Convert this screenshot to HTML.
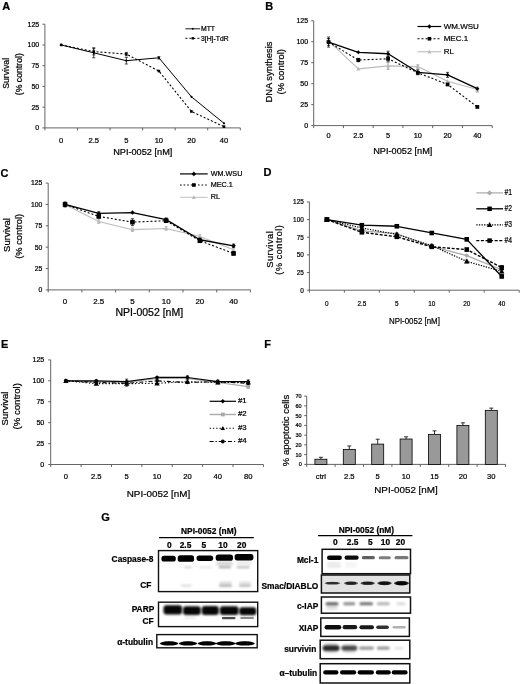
<!DOCTYPE html><html><head><meta charset="utf-8"><style>html,body{margin:0;padding:0;background:#fff;}svg{display:block;filter:grayscale(1) blur(0.3px);}text{font-family:"Liberation Sans", sans-serif;stroke:#000;stroke-width:0.22px;}</style></head><body>
<svg width="520" height="684" viewBox="0 0 520 684">
<rect width="520" height="684" fill="#fff"/>
<text x="2.30" y="10.20" font-size="11" text-anchor="start" font-weight="bold" fill="#000" >A</text>
<line x1="44.90" y1="24.20" x2="44.90" y2="127.90" stroke="#555" stroke-width="0.9" />
<line x1="44.90" y1="127.90" x2="240.30" y2="127.90" stroke="#555" stroke-width="0.9" />
<line x1="42.40" y1="127.90" x2="44.90" y2="127.90" stroke="#555" stroke-width="0.9" />
<text x="39.20" y="130.35" font-size="7" text-anchor="end" font-weight="normal" fill="#000" >0</text>
<line x1="42.40" y1="107.16" x2="44.90" y2="107.16" stroke="#555" stroke-width="0.9" />
<text x="39.20" y="109.61" font-size="7" text-anchor="end" font-weight="normal" fill="#000" >25</text>
<line x1="42.40" y1="86.42" x2="44.90" y2="86.42" stroke="#555" stroke-width="0.9" />
<text x="39.20" y="88.87" font-size="7" text-anchor="end" font-weight="normal" fill="#000" >50</text>
<line x1="42.40" y1="65.68" x2="44.90" y2="65.68" stroke="#555" stroke-width="0.9" />
<text x="39.20" y="68.13" font-size="7" text-anchor="end" font-weight="normal" fill="#000" >75</text>
<line x1="42.40" y1="44.94" x2="44.90" y2="44.94" stroke="#555" stroke-width="0.9" />
<text x="39.20" y="47.39" font-size="7" text-anchor="end" font-weight="normal" fill="#000" >100</text>
<line x1="42.40" y1="24.20" x2="44.90" y2="24.20" stroke="#555" stroke-width="0.9" />
<text x="39.20" y="26.65" font-size="7" text-anchor="end" font-weight="normal" fill="#000" >125</text>
<line x1="44.90" y1="127.90" x2="44.90" y2="130.40" stroke="#555" stroke-width="0.9" />
<line x1="77.47" y1="127.90" x2="77.47" y2="130.40" stroke="#555" stroke-width="0.9" />
<line x1="110.03" y1="127.90" x2="110.03" y2="130.40" stroke="#555" stroke-width="0.9" />
<line x1="142.60" y1="127.90" x2="142.60" y2="130.40" stroke="#555" stroke-width="0.9" />
<line x1="175.17" y1="127.90" x2="175.17" y2="130.40" stroke="#555" stroke-width="0.9" />
<line x1="207.73" y1="127.90" x2="207.73" y2="130.40" stroke="#555" stroke-width="0.9" />
<line x1="240.30" y1="127.90" x2="240.30" y2="130.40" stroke="#555" stroke-width="0.9" />
<text x="61.18" y="143.36" font-size="7.6" text-anchor="middle" font-weight="normal" fill="#000" >0</text>
<text x="93.75" y="143.36" font-size="7.6" text-anchor="middle" font-weight="normal" fill="#000" >2.5</text>
<text x="126.32" y="143.36" font-size="7.6" text-anchor="middle" font-weight="normal" fill="#000" >5</text>
<text x="158.88" y="143.36" font-size="7.6" text-anchor="middle" font-weight="normal" fill="#000" >10</text>
<text x="191.45" y="143.36" font-size="7.6" text-anchor="middle" font-weight="normal" fill="#000" >20</text>
<text x="224.02" y="143.36" font-size="7.6" text-anchor="middle" font-weight="normal" fill="#000" >40</text>
<text x="142.75" y="155.22" font-size="9.2" text-anchor="middle" font-weight="normal" fill="#000" >NPI-0052 [nM]</text>
<text x="5.80" y="76.45" font-size="8.7" text-anchor="middle" font-weight="normal" fill="#000" transform="rotate(-90 5.80 73.40)" >Survival</text>
<text x="18.80" y="77.25" font-size="8.7" text-anchor="middle" font-weight="normal" fill="#000" transform="rotate(-90 18.80 74.20)" >(% control)</text>
<polyline points="61.18,44.94 93.75,52.82 126.32,60.70 158.88,57.80 191.45,96.79 224.02,123.34" fill="none" stroke="#000" stroke-width="1" stroke-linejoin="round"/>
<line x1="93.75" y1="47.84" x2="93.75" y2="57.80" stroke="#000" stroke-width="0.7" />
<line x1="92.25" y1="47.84" x2="95.25" y2="47.84" stroke="#000" stroke-width="0.7" />
<line x1="92.25" y1="57.80" x2="95.25" y2="57.80" stroke="#000" stroke-width="0.7" />
<line x1="126.32" y1="57.38" x2="126.32" y2="64.02" stroke="#000" stroke-width="0.7" />
<line x1="124.82" y1="57.38" x2="127.82" y2="57.38" stroke="#000" stroke-width="0.7" />
<line x1="124.82" y1="64.02" x2="127.82" y2="64.02" stroke="#000" stroke-width="0.7" />
<line x1="158.88" y1="56.55" x2="158.88" y2="59.04" stroke="#000" stroke-width="0.7" />
<line x1="157.38" y1="56.55" x2="160.38" y2="56.55" stroke="#000" stroke-width="0.7" />
<line x1="157.38" y1="59.04" x2="160.38" y2="59.04" stroke="#000" stroke-width="0.7" />
<circle cx="61.18" cy="44.94" r="1.1" fill="#000"/>
<circle cx="93.75" cy="52.82" r="1.1" fill="#000"/>
<circle cx="126.32" cy="60.70" r="1.1" fill="#000"/>
<circle cx="158.88" cy="57.80" r="1.1" fill="#000"/>
<circle cx="191.45" cy="96.79" r="1.1" fill="#000"/>
<circle cx="224.02" cy="123.34" r="1.1" fill="#000"/>
<polyline points="61.18,44.94 93.75,51.58 126.32,54.07 158.88,71.07 191.45,111.47 224.02,126.66" fill="none" stroke="#000" stroke-width="1.1" stroke-dasharray="2,2" stroke-linejoin="round"/>
<line x1="93.75" y1="48.26" x2="93.75" y2="54.90" stroke="#000" stroke-width="0.7" />
<line x1="92.25" y1="48.26" x2="95.25" y2="48.26" stroke="#000" stroke-width="0.7" />
<line x1="92.25" y1="54.90" x2="95.25" y2="54.90" stroke="#000" stroke-width="0.7" />
<line x1="126.32" y1="52.41" x2="126.32" y2="55.72" stroke="#000" stroke-width="0.7" />
<line x1="124.82" y1="52.41" x2="127.82" y2="52.41" stroke="#000" stroke-width="0.7" />
<line x1="124.82" y1="55.72" x2="127.82" y2="55.72" stroke="#000" stroke-width="0.7" />
<rect x="59.88" y="43.64" width="2.6" height="2.6" fill="#000"/>
<rect x="92.45" y="50.28" width="2.6" height="2.6" fill="#000"/>
<rect x="125.02" y="52.77" width="2.6" height="2.6" fill="#000"/>
<rect x="157.58" y="69.77" width="2.6" height="2.6" fill="#000"/>
<rect x="190.15" y="110.17" width="2.6" height="2.6" fill="#000"/>
<rect x="222.72" y="125.36" width="2.6" height="2.6" fill="#000"/>
<line x1="185.40" y1="28.80" x2="200.20" y2="28.80" stroke="#000" stroke-width="0.9" />
<circle cx="192.80" cy="28.80" r="1.0" fill="#000"/>
<text x="201.00" y="31.18" font-size="6.8" text-anchor="start" font-weight="normal" fill="#000" >MTT</text>
<line x1="185.40" y1="38.30" x2="200.20" y2="38.30" stroke="#000" stroke-width="1" stroke-dasharray="2,2" />
<rect x="191.60" y="37.10" width="2.4" height="2.4" fill="#000"/>
<text x="201.00" y="40.68" font-size="6.8" text-anchor="start" font-weight="normal" fill="#000" >3[H]-TdR</text>
<text x="265.30" y="10.20" font-size="11" text-anchor="start" font-weight="bold" fill="#000" >B</text>
<line x1="313.70" y1="20.80" x2="313.70" y2="125.60" stroke="#555" stroke-width="0.9" />
<line x1="313.70" y1="125.60" x2="492.20" y2="125.60" stroke="#555" stroke-width="0.9" />
<line x1="311.20" y1="125.60" x2="313.70" y2="125.60" stroke="#555" stroke-width="0.9" />
<text x="308.10" y="128.05" font-size="7" text-anchor="end" font-weight="normal" fill="#000" >0</text>
<line x1="311.20" y1="104.64" x2="313.70" y2="104.64" stroke="#555" stroke-width="0.9" />
<text x="308.10" y="107.09" font-size="7" text-anchor="end" font-weight="normal" fill="#000" >25</text>
<line x1="311.20" y1="83.68" x2="313.70" y2="83.68" stroke="#555" stroke-width="0.9" />
<text x="308.10" y="86.13" font-size="7" text-anchor="end" font-weight="normal" fill="#000" >50</text>
<line x1="311.20" y1="62.72" x2="313.70" y2="62.72" stroke="#555" stroke-width="0.9" />
<text x="308.10" y="65.17" font-size="7" text-anchor="end" font-weight="normal" fill="#000" >75</text>
<line x1="311.20" y1="41.76" x2="313.70" y2="41.76" stroke="#555" stroke-width="0.9" />
<text x="308.10" y="44.21" font-size="7" text-anchor="end" font-weight="normal" fill="#000" >100</text>
<line x1="311.20" y1="20.80" x2="313.70" y2="20.80" stroke="#555" stroke-width="0.9" />
<text x="308.10" y="23.25" font-size="7" text-anchor="end" font-weight="normal" fill="#000" >125</text>
<line x1="313.70" y1="125.60" x2="313.70" y2="128.10" stroke="#555" stroke-width="0.9" />
<line x1="343.45" y1="125.60" x2="343.45" y2="128.10" stroke="#555" stroke-width="0.9" />
<line x1="373.20" y1="125.60" x2="373.20" y2="128.10" stroke="#555" stroke-width="0.9" />
<line x1="402.95" y1="125.60" x2="402.95" y2="128.10" stroke="#555" stroke-width="0.9" />
<line x1="432.70" y1="125.60" x2="432.70" y2="128.10" stroke="#555" stroke-width="0.9" />
<line x1="462.45" y1="125.60" x2="462.45" y2="128.10" stroke="#555" stroke-width="0.9" />
<line x1="492.20" y1="125.60" x2="492.20" y2="128.10" stroke="#555" stroke-width="0.9" />
<text x="328.57" y="138.39" font-size="7.4" text-anchor="middle" font-weight="normal" fill="#000" >0</text>
<text x="358.32" y="138.39" font-size="7.4" text-anchor="middle" font-weight="normal" fill="#000" >2.5</text>
<text x="388.07" y="138.39" font-size="7.4" text-anchor="middle" font-weight="normal" fill="#000" >5</text>
<text x="417.82" y="138.39" font-size="7.4" text-anchor="middle" font-weight="normal" fill="#000" >10</text>
<text x="447.57" y="138.39" font-size="7.4" text-anchor="middle" font-weight="normal" fill="#000" >20</text>
<text x="477.32" y="138.39" font-size="7.4" text-anchor="middle" font-weight="normal" fill="#000" >40</text>
<text x="402.80" y="153.62" font-size="9.2" text-anchor="middle" font-weight="normal" fill="#000" >NPI-0052 [nM]</text>
<text x="269.20" y="75.34" font-size="9.4" text-anchor="middle" font-weight="normal" fill="#000" transform="rotate(-90 269.20 72.05)" >DNA synthesis</text>
<text x="281.00" y="75.04" font-size="9.4" text-anchor="middle" font-weight="normal" fill="#000" transform="rotate(-90 281.00 71.75)" >(% control)</text>
<polyline points="328.57,40.92 358.32,68.84 388.07,65.91 417.82,66.58 447.57,81.16 477.32,89.55" fill="none" stroke="#bbb" stroke-width="1.1" stroke-linejoin="round"/>
<line x1="328.57" y1="38.41" x2="328.57" y2="43.44" stroke="#777" stroke-width="0.7" />
<line x1="327.07" y1="38.41" x2="330.07" y2="38.41" stroke="#777" stroke-width="0.7" />
<line x1="327.07" y1="43.44" x2="330.07" y2="43.44" stroke="#777" stroke-width="0.7" />
<line x1="388.07" y1="62.55" x2="388.07" y2="69.26" stroke="#777" stroke-width="0.7" />
<line x1="386.57" y1="62.55" x2="389.57" y2="62.55" stroke="#777" stroke-width="0.7" />
<line x1="386.57" y1="69.26" x2="389.57" y2="69.26" stroke="#777" stroke-width="0.7" />
<line x1="417.82" y1="64.90" x2="417.82" y2="68.25" stroke="#777" stroke-width="0.7" />
<line x1="416.32" y1="64.90" x2="419.32" y2="64.90" stroke="#777" stroke-width="0.7" />
<line x1="416.32" y1="68.25" x2="419.32" y2="68.25" stroke="#777" stroke-width="0.7" />
<line x1="477.32" y1="87.03" x2="477.32" y2="92.06" stroke="#777" stroke-width="0.7" />
<line x1="475.82" y1="87.03" x2="478.82" y2="87.03" stroke="#777" stroke-width="0.7" />
<line x1="475.82" y1="92.06" x2="478.82" y2="92.06" stroke="#777" stroke-width="0.7" />
<polygon points="328.57,38.88 330.62,42.55 326.53,42.55" fill="#bbb"/>
<polygon points="358.32,66.80 360.37,70.47 356.28,70.47" fill="#bbb"/>
<polygon points="388.07,63.87 390.12,67.54 386.03,67.54" fill="#bbb"/>
<polygon points="417.82,64.54 419.87,68.21 415.78,68.21" fill="#bbb"/>
<polygon points="447.57,79.12 449.62,82.80 445.53,82.80" fill="#bbb"/>
<polygon points="477.32,87.51 479.37,91.18 475.28,91.18" fill="#bbb"/>
<polyline points="328.57,42.10 358.32,60.04 388.07,58.78 417.82,72.78 447.57,84.43 477.32,106.90" fill="none" stroke="#000" stroke-width="1.1" stroke-dasharray="2,2" stroke-linejoin="round"/>
<line x1="328.57" y1="38.74" x2="328.57" y2="45.45" stroke="#000" stroke-width="0.7" />
<line x1="327.07" y1="38.74" x2="330.07" y2="38.74" stroke="#000" stroke-width="0.7" />
<line x1="327.07" y1="45.45" x2="330.07" y2="45.45" stroke="#000" stroke-width="0.7" />
<line x1="358.32" y1="58.36" x2="358.32" y2="61.71" stroke="#000" stroke-width="0.7" />
<line x1="356.82" y1="58.36" x2="359.82" y2="58.36" stroke="#000" stroke-width="0.7" />
<line x1="356.82" y1="61.71" x2="359.82" y2="61.71" stroke="#000" stroke-width="0.7" />
<line x1="388.07" y1="56.26" x2="388.07" y2="61.29" stroke="#000" stroke-width="0.7" />
<line x1="386.57" y1="56.26" x2="389.57" y2="56.26" stroke="#000" stroke-width="0.7" />
<line x1="386.57" y1="61.29" x2="389.57" y2="61.29" stroke="#000" stroke-width="0.7" />
<rect x="326.68" y="40.20" width="3.8" height="3.8" fill="#000"/>
<rect x="356.43" y="58.14" width="3.8" height="3.8" fill="#000"/>
<rect x="386.18" y="56.88" width="3.8" height="3.8" fill="#000"/>
<rect x="415.93" y="70.88" width="3.8" height="3.8" fill="#000"/>
<rect x="445.68" y="82.53" width="3.8" height="3.8" fill="#000"/>
<rect x="475.43" y="105.00" width="3.8" height="3.8" fill="#000"/>
<polyline points="328.57,42.10 358.32,52.32 388.07,53.75 417.82,72.28 447.57,74.88 477.32,88.71" fill="none" stroke="#000" stroke-width="1.3" stroke-linejoin="round"/>
<line x1="328.57" y1="37.06" x2="328.57" y2="47.13" stroke="#000" stroke-width="0.7" />
<line x1="327.07" y1="37.06" x2="330.07" y2="37.06" stroke="#000" stroke-width="0.7" />
<line x1="327.07" y1="47.13" x2="330.07" y2="47.13" stroke="#000" stroke-width="0.7" />
<line x1="388.07" y1="51.23" x2="388.07" y2="56.26" stroke="#000" stroke-width="0.7" />
<line x1="386.57" y1="51.23" x2="389.57" y2="51.23" stroke="#000" stroke-width="0.7" />
<line x1="386.57" y1="56.26" x2="389.57" y2="56.26" stroke="#000" stroke-width="0.7" />
<line x1="417.82" y1="69.76" x2="417.82" y2="74.79" stroke="#000" stroke-width="0.7" />
<line x1="416.32" y1="69.76" x2="419.32" y2="69.76" stroke="#000" stroke-width="0.7" />
<line x1="416.32" y1="74.79" x2="419.32" y2="74.79" stroke="#000" stroke-width="0.7" />
<line x1="447.57" y1="72.36" x2="447.57" y2="77.39" stroke="#000" stroke-width="0.7" />
<line x1="446.07" y1="72.36" x2="449.07" y2="72.36" stroke="#000" stroke-width="0.7" />
<line x1="446.07" y1="77.39" x2="449.07" y2="77.39" stroke="#000" stroke-width="0.7" />
<polygon points="328.57,40.06 330.62,42.10 328.57,44.14 326.53,42.10" fill="#000"/>
<polygon points="358.32,50.28 360.37,52.32 358.32,54.36 356.28,52.32" fill="#000"/>
<polygon points="388.07,51.71 390.12,53.75 388.07,55.79 386.03,53.75" fill="#000"/>
<polygon points="417.82,70.24 419.87,72.28 417.82,74.32 415.78,72.28" fill="#000"/>
<polygon points="447.57,72.84 449.62,74.88 447.57,76.92 445.53,74.88" fill="#000"/>
<polygon points="477.32,86.67 479.37,88.71 477.32,90.75 475.28,88.71" fill="#000"/>
<line x1="417.50" y1="26.50" x2="441.25" y2="26.50" stroke="#000" stroke-width="1.2" />
<polygon points="429.40,24.34 431.56,26.50 429.40,28.66 427.24,26.50" fill="#000"/>
<text x="443.70" y="28.80" font-size="8" text-anchor="start" font-weight="normal" fill="#000" >WM.WSU</text>
<line x1="417.50" y1="38.75" x2="441.25" y2="38.75" stroke="#000" stroke-width="1.1" stroke-dasharray="2,2" />
<rect x="427.60" y="36.95" width="3.6" height="3.6" fill="#000"/>
<text x="443.70" y="41.05" font-size="8" text-anchor="start" font-weight="normal" fill="#000" >MEC.1</text>
<line x1="417.50" y1="51.75" x2="441.25" y2="51.75" stroke="#bbb" stroke-width="1.1" />
<polygon points="429.40,49.71 431.44,53.38 427.36,53.38" fill="#bbb"/>
<text x="443.70" y="53.80" font-size="8" text-anchor="start" font-weight="normal" fill="#000" >RL</text>
<text x="0.50" y="177.10" font-size="11" text-anchor="start" font-weight="bold" fill="#000" >C</text>
<line x1="48.20" y1="183.10" x2="48.20" y2="289.90" stroke="#555" stroke-width="0.9" />
<line x1="48.20" y1="289.90" x2="250.40" y2="289.90" stroke="#555" stroke-width="0.9" />
<line x1="45.70" y1="289.90" x2="48.20" y2="289.90" stroke="#555" stroke-width="0.9" />
<text x="42.30" y="292.28" font-size="6.8" text-anchor="end" font-weight="normal" fill="#000" >0</text>
<line x1="45.70" y1="268.54" x2="48.20" y2="268.54" stroke="#555" stroke-width="0.9" />
<text x="42.30" y="270.92" font-size="6.8" text-anchor="end" font-weight="normal" fill="#000" >25</text>
<line x1="45.70" y1="247.18" x2="48.20" y2="247.18" stroke="#555" stroke-width="0.9" />
<text x="42.30" y="249.56" font-size="6.8" text-anchor="end" font-weight="normal" fill="#000" >50</text>
<line x1="45.70" y1="225.82" x2="48.20" y2="225.82" stroke="#555" stroke-width="0.9" />
<text x="42.30" y="228.20" font-size="6.8" text-anchor="end" font-weight="normal" fill="#000" >75</text>
<line x1="45.70" y1="204.46" x2="48.20" y2="204.46" stroke="#555" stroke-width="0.9" />
<text x="42.30" y="206.84" font-size="6.8" text-anchor="end" font-weight="normal" fill="#000" >100</text>
<line x1="45.70" y1="183.10" x2="48.20" y2="183.10" stroke="#555" stroke-width="0.9" />
<text x="42.30" y="185.48" font-size="6.8" text-anchor="end" font-weight="normal" fill="#000" >125</text>
<line x1="48.20" y1="289.90" x2="48.20" y2="292.40" stroke="#555" stroke-width="0.9" />
<line x1="81.90" y1="289.90" x2="81.90" y2="292.40" stroke="#555" stroke-width="0.9" />
<line x1="115.60" y1="289.90" x2="115.60" y2="292.40" stroke="#555" stroke-width="0.9" />
<line x1="149.30" y1="289.90" x2="149.30" y2="292.40" stroke="#555" stroke-width="0.9" />
<line x1="183.00" y1="289.90" x2="183.00" y2="292.40" stroke="#555" stroke-width="0.9" />
<line x1="216.70" y1="289.90" x2="216.70" y2="292.40" stroke="#555" stroke-width="0.9" />
<line x1="250.40" y1="289.90" x2="250.40" y2="292.40" stroke="#555" stroke-width="0.9" />
<text x="65.05" y="303.56" font-size="7.9" text-anchor="middle" font-weight="normal" fill="#000" >0</text>
<text x="98.75" y="303.56" font-size="7.9" text-anchor="middle" font-weight="normal" fill="#000" >2.5</text>
<text x="132.45" y="303.56" font-size="7.9" text-anchor="middle" font-weight="normal" fill="#000" >5</text>
<text x="166.15" y="303.56" font-size="7.9" text-anchor="middle" font-weight="normal" fill="#000" >10</text>
<text x="199.85" y="303.56" font-size="7.9" text-anchor="middle" font-weight="normal" fill="#000" >20</text>
<text x="233.55" y="303.56" font-size="7.9" text-anchor="middle" font-weight="normal" fill="#000" >40</text>
<text x="149.25" y="316.18" font-size="10.5" text-anchor="middle" font-weight="normal" fill="#000" >NPI-0052 [nM]</text>
<text x="7.00" y="238.32" font-size="9.5" text-anchor="middle" font-weight="normal" fill="#000" transform="rotate(-90 7.00 235.00)" >Survival</text>
<text x="18.80" y="239.56" font-size="9.3" text-anchor="middle" font-weight="normal" fill="#000" transform="rotate(-90 18.80 236.30)" >(% control)</text>
<polyline points="65.05,204.46 98.75,221.55 132.45,229.66 166.15,228.47 199.85,236.50 233.55,249.83" fill="none" stroke="#bbb" stroke-width="1.1" stroke-linejoin="round"/>
<line x1="65.05" y1="202.75" x2="65.05" y2="206.17" stroke="#999" stroke-width="0.7" />
<line x1="63.55" y1="202.75" x2="66.55" y2="202.75" stroke="#999" stroke-width="0.7" />
<line x1="63.55" y1="206.17" x2="66.55" y2="206.17" stroke="#999" stroke-width="0.7" />
<line x1="98.75" y1="219.84" x2="98.75" y2="223.26" stroke="#999" stroke-width="0.7" />
<line x1="97.25" y1="219.84" x2="100.25" y2="219.84" stroke="#999" stroke-width="0.7" />
<line x1="97.25" y1="223.26" x2="100.25" y2="223.26" stroke="#999" stroke-width="0.7" />
<line x1="132.45" y1="227.96" x2="132.45" y2="231.37" stroke="#999" stroke-width="0.7" />
<line x1="130.95" y1="227.96" x2="133.95" y2="227.96" stroke="#999" stroke-width="0.7" />
<line x1="130.95" y1="231.37" x2="133.95" y2="231.37" stroke="#999" stroke-width="0.7" />
<line x1="166.15" y1="226.76" x2="166.15" y2="230.18" stroke="#999" stroke-width="0.7" />
<line x1="164.65" y1="226.76" x2="167.65" y2="226.76" stroke="#999" stroke-width="0.7" />
<line x1="164.65" y1="230.18" x2="167.65" y2="230.18" stroke="#999" stroke-width="0.7" />
<line x1="199.85" y1="234.79" x2="199.85" y2="238.21" stroke="#999" stroke-width="0.7" />
<line x1="198.35" y1="234.79" x2="201.35" y2="234.79" stroke="#999" stroke-width="0.7" />
<line x1="198.35" y1="238.21" x2="201.35" y2="238.21" stroke="#999" stroke-width="0.7" />
<line x1="233.55" y1="248.12" x2="233.55" y2="251.54" stroke="#999" stroke-width="0.7" />
<line x1="232.05" y1="248.12" x2="235.05" y2="248.12" stroke="#999" stroke-width="0.7" />
<line x1="232.05" y1="251.54" x2="235.05" y2="251.54" stroke="#999" stroke-width="0.7" />
<polygon points="65.05,202.42 67.09,206.09 63.01,206.09" fill="#bbb"/>
<polygon points="98.75,219.51 100.79,223.18 96.71,223.18" fill="#bbb"/>
<polygon points="132.45,227.62 134.49,231.30 130.41,231.30" fill="#bbb"/>
<polygon points="166.15,226.43 168.19,230.10 164.11,230.10" fill="#bbb"/>
<polygon points="199.85,234.46 201.89,238.13 197.81,238.13" fill="#bbb"/>
<polygon points="233.55,247.79 235.59,251.46 231.51,251.46" fill="#bbb"/>
<polyline points="65.05,204.46 98.75,216.42 132.45,222.15 166.15,220.69 199.85,240.77 233.55,253.42" fill="none" stroke="#000" stroke-width="1.1" stroke-dasharray="2,2" stroke-linejoin="round"/>
<line x1="65.05" y1="201.90" x2="65.05" y2="207.02" stroke="#000" stroke-width="0.7" />
<line x1="63.55" y1="201.90" x2="66.55" y2="201.90" stroke="#000" stroke-width="0.7" />
<line x1="63.55" y1="207.02" x2="66.55" y2="207.02" stroke="#000" stroke-width="0.7" />
<line x1="98.75" y1="214.71" x2="98.75" y2="218.13" stroke="#000" stroke-width="0.7" />
<line x1="97.25" y1="214.71" x2="100.25" y2="214.71" stroke="#000" stroke-width="0.7" />
<line x1="97.25" y1="218.13" x2="100.25" y2="218.13" stroke="#000" stroke-width="0.7" />
<line x1="132.45" y1="218.73" x2="132.45" y2="225.56" stroke="#000" stroke-width="0.7" />
<line x1="130.95" y1="218.73" x2="133.95" y2="218.73" stroke="#000" stroke-width="0.7" />
<line x1="130.95" y1="225.56" x2="133.95" y2="225.56" stroke="#000" stroke-width="0.7" />
<line x1="166.15" y1="218.98" x2="166.15" y2="222.40" stroke="#000" stroke-width="0.7" />
<line x1="164.65" y1="218.98" x2="167.65" y2="218.98" stroke="#000" stroke-width="0.7" />
<line x1="164.65" y1="222.40" x2="167.65" y2="222.40" stroke="#000" stroke-width="0.7" />
<line x1="199.85" y1="239.06" x2="199.85" y2="242.48" stroke="#000" stroke-width="0.7" />
<line x1="198.35" y1="239.06" x2="201.35" y2="239.06" stroke="#000" stroke-width="0.7" />
<line x1="198.35" y1="242.48" x2="201.35" y2="242.48" stroke="#000" stroke-width="0.7" />
<line x1="233.55" y1="251.71" x2="233.55" y2="255.13" stroke="#000" stroke-width="0.7" />
<line x1="232.05" y1="251.71" x2="235.05" y2="251.71" stroke="#000" stroke-width="0.7" />
<line x1="232.05" y1="255.13" x2="235.05" y2="255.13" stroke="#000" stroke-width="0.7" />
<rect x="62.75" y="202.16" width="4.6" height="4.6" fill="#000"/>
<rect x="96.45" y="214.12" width="4.6" height="4.6" fill="#000"/>
<rect x="130.15" y="219.85" width="4.6" height="4.6" fill="#000"/>
<rect x="163.85" y="218.39" width="4.6" height="4.6" fill="#000"/>
<rect x="197.55" y="238.47" width="4.6" height="4.6" fill="#000"/>
<rect x="231.25" y="251.12" width="4.6" height="4.6" fill="#000"/>
<polyline points="65.05,204.46 98.75,213.43 132.45,212.58 166.15,219.67 199.85,239.75 233.55,245.81" fill="none" stroke="#000" stroke-width="1.3" stroke-linejoin="round"/>
<line x1="65.05" y1="202.75" x2="65.05" y2="206.17" stroke="#000" stroke-width="0.7" />
<line x1="63.55" y1="202.75" x2="66.55" y2="202.75" stroke="#000" stroke-width="0.7" />
<line x1="63.55" y1="206.17" x2="66.55" y2="206.17" stroke="#000" stroke-width="0.7" />
<line x1="98.75" y1="211.72" x2="98.75" y2="215.14" stroke="#000" stroke-width="0.7" />
<line x1="97.25" y1="211.72" x2="100.25" y2="211.72" stroke="#000" stroke-width="0.7" />
<line x1="97.25" y1="215.14" x2="100.25" y2="215.14" stroke="#000" stroke-width="0.7" />
<line x1="166.15" y1="217.96" x2="166.15" y2="221.38" stroke="#000" stroke-width="0.7" />
<line x1="164.65" y1="217.96" x2="167.65" y2="217.96" stroke="#000" stroke-width="0.7" />
<line x1="164.65" y1="221.38" x2="167.65" y2="221.38" stroke="#000" stroke-width="0.7" />
<line x1="199.85" y1="238.04" x2="199.85" y2="241.46" stroke="#000" stroke-width="0.7" />
<line x1="198.35" y1="238.04" x2="201.35" y2="238.04" stroke="#000" stroke-width="0.7" />
<line x1="198.35" y1="241.46" x2="201.35" y2="241.46" stroke="#000" stroke-width="0.7" />
<line x1="233.55" y1="244.10" x2="233.55" y2="247.52" stroke="#000" stroke-width="0.7" />
<line x1="232.05" y1="244.10" x2="235.05" y2="244.10" stroke="#000" stroke-width="0.7" />
<line x1="232.05" y1="247.52" x2="235.05" y2="247.52" stroke="#000" stroke-width="0.7" />
<polygon points="65.05,202.18 67.33,204.46 65.05,206.74 62.77,204.46" fill="#000"/>
<polygon points="98.75,211.15 101.03,213.43 98.75,215.71 96.47,213.43" fill="#000"/>
<polygon points="132.45,210.30 134.73,212.58 132.45,214.86 130.17,212.58" fill="#000"/>
<polygon points="166.15,217.39 168.43,219.67 166.15,221.95 163.87,219.67" fill="#000"/>
<polygon points="199.85,237.47 202.13,239.75 199.85,242.03 197.57,239.75" fill="#000"/>
<polygon points="233.55,243.53 235.83,245.81 233.55,248.09 231.27,245.81" fill="#000"/>
<line x1="180.00" y1="173.90" x2="207.70" y2="173.90" stroke="#000" stroke-width="1.2" />
<polygon points="193.85,171.62 196.13,173.90 193.85,176.18 191.57,173.90" fill="#000"/>
<text x="210.80" y="175.92" font-size="7.2" text-anchor="start" font-weight="normal" fill="#000" >WM.WSU</text>
<line x1="180.00" y1="185.00" x2="207.70" y2="185.00" stroke="#000" stroke-width="1.1" stroke-dasharray="1.6,2" />
<rect x="192.05" y="183.20" width="3.6" height="3.6" fill="#000"/>
<text x="210.80" y="187.02" font-size="7.2" text-anchor="start" font-weight="normal" fill="#000" >MEC.1</text>
<line x1="180.00" y1="197.30" x2="207.70" y2="197.30" stroke="#c4c4c4" stroke-width="1.1" />
<polygon points="193.85,195.26 195.89,198.93 191.81,198.93" fill="#bbb"/>
<text x="210.80" y="199.32" font-size="7.2" text-anchor="start" font-weight="normal" fill="#000" >RL</text>
<text x="263.60" y="176.30" font-size="11" text-anchor="start" font-weight="bold" fill="#000" >D</text>
<line x1="309.40" y1="201.90" x2="309.40" y2="290.20" stroke="#555" stroke-width="0.9" />
<line x1="309.40" y1="290.20" x2="519.20" y2="290.20" stroke="#555" stroke-width="0.9" />
<line x1="306.90" y1="290.20" x2="309.40" y2="290.20" stroke="#555" stroke-width="0.9" />
<text x="303.80" y="292.79" font-size="7.4" text-anchor="end" font-weight="normal" fill="#000" transform="translate(303.80 0) scale(0.87 1) translate(-303.80 0)" >0</text>
<line x1="306.90" y1="272.54" x2="309.40" y2="272.54" stroke="#555" stroke-width="0.9" />
<text x="303.80" y="275.13" font-size="7.4" text-anchor="end" font-weight="normal" fill="#000" transform="translate(303.80 0) scale(0.87 1) translate(-303.80 0)" >25</text>
<line x1="306.90" y1="254.88" x2="309.40" y2="254.88" stroke="#555" stroke-width="0.9" />
<text x="303.80" y="257.47" font-size="7.4" text-anchor="end" font-weight="normal" fill="#000" transform="translate(303.80 0) scale(0.87 1) translate(-303.80 0)" >50</text>
<line x1="306.90" y1="237.22" x2="309.40" y2="237.22" stroke="#555" stroke-width="0.9" />
<text x="303.80" y="239.81" font-size="7.4" text-anchor="end" font-weight="normal" fill="#000" transform="translate(303.80 0) scale(0.87 1) translate(-303.80 0)" >75</text>
<line x1="306.90" y1="219.56" x2="309.40" y2="219.56" stroke="#555" stroke-width="0.9" />
<text x="303.80" y="222.15" font-size="7.4" text-anchor="end" font-weight="normal" fill="#000" transform="translate(303.80 0) scale(0.87 1) translate(-303.80 0)" >100</text>
<line x1="306.90" y1="201.90" x2="309.40" y2="201.90" stroke="#555" stroke-width="0.9" />
<text x="303.80" y="204.49" font-size="7.4" text-anchor="end" font-weight="normal" fill="#000" transform="translate(303.80 0) scale(0.87 1) translate(-303.80 0)" >125</text>
<line x1="309.40" y1="290.20" x2="309.40" y2="292.70" stroke="#555" stroke-width="0.9" />
<line x1="344.37" y1="290.20" x2="344.37" y2="292.70" stroke="#555" stroke-width="0.9" />
<line x1="379.33" y1="290.20" x2="379.33" y2="292.70" stroke="#555" stroke-width="0.9" />
<line x1="414.30" y1="290.20" x2="414.30" y2="292.70" stroke="#555" stroke-width="0.9" />
<line x1="449.27" y1="290.20" x2="449.27" y2="292.70" stroke="#555" stroke-width="0.9" />
<line x1="484.23" y1="290.20" x2="484.23" y2="292.70" stroke="#555" stroke-width="0.9" />
<line x1="519.20" y1="290.20" x2="519.20" y2="292.70" stroke="#555" stroke-width="0.9" />
<text x="326.88" y="306.05" font-size="8" text-anchor="middle" font-weight="normal" fill="#000" transform="translate(326.88 0) scale(0.8 1) translate(-326.88 0)" >0</text>
<text x="361.85" y="306.05" font-size="8" text-anchor="middle" font-weight="normal" fill="#000" transform="translate(361.85 0) scale(0.8 1) translate(-361.85 0)" >2.5</text>
<text x="396.82" y="306.05" font-size="8" text-anchor="middle" font-weight="normal" fill="#000" transform="translate(396.82 0) scale(0.8 1) translate(-396.82 0)" >5</text>
<text x="431.78" y="306.05" font-size="8" text-anchor="middle" font-weight="normal" fill="#000" transform="translate(431.78 0) scale(0.8 1) translate(-431.78 0)" >10</text>
<text x="466.75" y="306.05" font-size="8" text-anchor="middle" font-weight="normal" fill="#000" transform="translate(466.75 0) scale(0.8 1) translate(-466.75 0)" >20</text>
<text x="501.72" y="306.05" font-size="8" text-anchor="middle" font-weight="normal" fill="#000" transform="translate(501.72 0) scale(0.8 1) translate(-501.72 0)" >40</text>
<g transform="translate(414.4 321.2) scale(0.85 1) translate(-414.4 -321.2)">
<text x="414.40" y="324.45" font-size="9.3" text-anchor="middle" font-weight="normal" fill="#000" >NPI-0052 [nM]</text>
</g>
<text x="269.50" y="252.45" font-size="9.3" text-anchor="middle" font-weight="normal" fill="#000" transform="rotate(-90 269.50 249.20)" letter-spacing="0.5">Survival</text>
<text x="279.00" y="252.75" font-size="9" text-anchor="middle" font-weight="normal" fill="#000" transform="rotate(-90 279.00 249.60)" letter-spacing="0.6">(% control)</text>
<polyline points="326.88,219.56 361.85,230.86 396.82,233.69 431.78,246.40 466.75,255.59 501.72,269.71" fill="none" stroke="#aaa" stroke-width="1.2" stroke-linejoin="round"/>
<line x1="501.72" y1="267.60" x2="501.72" y2="271.83" stroke="#aaa" stroke-width="0.7" />
<line x1="500.22" y1="267.60" x2="503.22" y2="267.60" stroke="#aaa" stroke-width="0.7" />
<line x1="500.22" y1="271.83" x2="503.22" y2="271.83" stroke="#aaa" stroke-width="0.7" />
<polygon points="326.88,217.16 329.28,219.56 326.88,221.96 324.48,219.56" fill="#aaa"/>
<polygon points="361.85,228.46 364.25,230.86 361.85,233.26 359.45,230.86" fill="#aaa"/>
<polygon points="396.82,231.29 399.22,233.69 396.82,236.09 394.42,233.69" fill="#aaa"/>
<polygon points="431.78,244.00 434.18,246.40 431.78,248.80 429.38,246.40" fill="#aaa"/>
<polygon points="466.75,253.19 469.15,255.59 466.75,257.99 464.35,255.59" fill="#aaa"/>
<polygon points="501.72,267.31 504.12,269.71 501.72,272.11 499.32,269.71" fill="#aaa"/>
<polyline points="326.88,219.56 361.85,232.28 396.82,236.80 431.78,246.83 466.75,249.58 501.72,267.60" fill="none" stroke="#000" stroke-width="1.4" stroke-dasharray="3,1.6" stroke-linejoin="round"/>
<line x1="361.85" y1="230.86" x2="361.85" y2="233.69" stroke="#000" stroke-width="0.7" />
<line x1="360.35" y1="230.86" x2="363.35" y2="230.86" stroke="#000" stroke-width="0.7" />
<line x1="360.35" y1="233.69" x2="363.35" y2="233.69" stroke="#000" stroke-width="0.7" />
<line x1="396.82" y1="235.38" x2="396.82" y2="238.21" stroke="#000" stroke-width="0.7" />
<line x1="395.32" y1="235.38" x2="398.32" y2="235.38" stroke="#000" stroke-width="0.7" />
<line x1="395.32" y1="238.21" x2="398.32" y2="238.21" stroke="#000" stroke-width="0.7" />
<line x1="431.78" y1="245.41" x2="431.78" y2="248.24" stroke="#000" stroke-width="0.7" />
<line x1="430.28" y1="245.41" x2="433.28" y2="245.41" stroke="#000" stroke-width="0.7" />
<line x1="430.28" y1="248.24" x2="433.28" y2="248.24" stroke="#000" stroke-width="0.7" />
<line x1="466.75" y1="248.17" x2="466.75" y2="250.99" stroke="#000" stroke-width="0.7" />
<line x1="465.25" y1="248.17" x2="468.25" y2="248.17" stroke="#000" stroke-width="0.7" />
<line x1="465.25" y1="250.99" x2="468.25" y2="250.99" stroke="#000" stroke-width="0.7" />
<line x1="501.72" y1="265.48" x2="501.72" y2="269.71" stroke="#000" stroke-width="0.7" />
<line x1="500.22" y1="265.48" x2="503.22" y2="265.48" stroke="#000" stroke-width="0.7" />
<line x1="500.22" y1="269.71" x2="503.22" y2="269.71" stroke="#000" stroke-width="0.7" />
<rect x="324.58" y="217.26" width="4.6" height="4.6" fill="#000"/>
<rect x="359.55" y="229.98" width="4.6" height="4.6" fill="#000"/>
<rect x="394.52" y="234.50" width="4.6" height="4.6" fill="#000"/>
<rect x="429.48" y="244.53" width="4.6" height="4.6" fill="#000"/>
<rect x="464.45" y="247.28" width="4.6" height="4.6" fill="#000"/>
<rect x="499.42" y="265.30" width="4.6" height="4.6" fill="#000"/>
<polyline points="326.88,219.56 361.85,228.04 396.82,234.39 431.78,245.70 466.75,261.38 501.72,271.41" fill="none" stroke="#000" stroke-width="1.2" stroke-dasharray="1.3,1.3" stroke-linejoin="round"/>
<line x1="396.82" y1="232.98" x2="396.82" y2="235.81" stroke="#000" stroke-width="0.7" />
<line x1="395.32" y1="232.98" x2="398.32" y2="232.98" stroke="#000" stroke-width="0.7" />
<line x1="395.32" y1="235.81" x2="398.32" y2="235.81" stroke="#000" stroke-width="0.7" />
<line x1="431.78" y1="244.28" x2="431.78" y2="247.11" stroke="#000" stroke-width="0.7" />
<line x1="430.28" y1="244.28" x2="433.28" y2="244.28" stroke="#000" stroke-width="0.7" />
<line x1="430.28" y1="247.11" x2="433.28" y2="247.11" stroke="#000" stroke-width="0.7" />
<line x1="466.75" y1="259.97" x2="466.75" y2="262.79" stroke="#000" stroke-width="0.7" />
<line x1="465.25" y1="259.97" x2="468.25" y2="259.97" stroke="#000" stroke-width="0.7" />
<line x1="465.25" y1="262.79" x2="468.25" y2="262.79" stroke="#000" stroke-width="0.7" />
<line x1="501.72" y1="270.00" x2="501.72" y2="272.82" stroke="#000" stroke-width="0.7" />
<line x1="500.22" y1="270.00" x2="503.22" y2="270.00" stroke="#000" stroke-width="0.7" />
<line x1="500.22" y1="272.82" x2="503.22" y2="272.82" stroke="#000" stroke-width="0.7" />
<polygon points="326.88,216.80 329.64,221.77 324.12,221.77" fill="#000"/>
<polygon points="361.85,225.28 364.61,230.24 359.09,230.24" fill="#000"/>
<polygon points="396.82,231.63 399.58,236.60 394.06,236.60" fill="#000"/>
<polygon points="431.78,242.94 434.54,247.90 429.02,247.90" fill="#000"/>
<polygon points="466.75,258.62 469.51,263.59 463.99,263.59" fill="#000"/>
<polygon points="501.72,268.65 504.48,273.62 498.96,273.62" fill="#000"/>
<polyline points="326.88,219.56 361.85,225.21 396.82,226.27 431.78,232.98 466.75,239.34 501.72,276.43" fill="none" stroke="#000" stroke-width="1.3" stroke-linejoin="round"/>
<line x1="326.88" y1="218.15" x2="326.88" y2="220.97" stroke="#000" stroke-width="0.7" />
<line x1="325.38" y1="218.15" x2="328.38" y2="218.15" stroke="#000" stroke-width="0.7" />
<line x1="325.38" y1="220.97" x2="328.38" y2="220.97" stroke="#000" stroke-width="0.7" />
<line x1="361.85" y1="223.80" x2="361.85" y2="226.62" stroke="#000" stroke-width="0.7" />
<line x1="360.35" y1="223.80" x2="363.35" y2="223.80" stroke="#000" stroke-width="0.7" />
<line x1="360.35" y1="226.62" x2="363.35" y2="226.62" stroke="#000" stroke-width="0.7" />
<line x1="466.75" y1="237.93" x2="466.75" y2="240.75" stroke="#000" stroke-width="0.7" />
<line x1="465.25" y1="237.93" x2="468.25" y2="237.93" stroke="#000" stroke-width="0.7" />
<line x1="465.25" y1="240.75" x2="468.25" y2="240.75" stroke="#000" stroke-width="0.7" />
<line x1="501.72" y1="275.01" x2="501.72" y2="277.84" stroke="#000" stroke-width="0.7" />
<line x1="500.22" y1="275.01" x2="503.22" y2="275.01" stroke="#000" stroke-width="0.7" />
<line x1="500.22" y1="277.84" x2="503.22" y2="277.84" stroke="#000" stroke-width="0.7" />
<rect x="324.58" y="217.26" width="4.6" height="4.6" fill="#000"/>
<rect x="359.55" y="222.91" width="4.6" height="4.6" fill="#000"/>
<rect x="394.52" y="223.97" width="4.6" height="4.6" fill="#000"/>
<rect x="429.48" y="230.68" width="4.6" height="4.6" fill="#000"/>
<rect x="464.45" y="237.04" width="4.6" height="4.6" fill="#000"/>
<rect x="499.42" y="274.13" width="4.6" height="4.6" fill="#000"/>
<line x1="476.30" y1="192.90" x2="503.00" y2="192.90" stroke="#aaa" stroke-width="1.2" />
<polygon points="489.60,190.20 492.30,192.90 489.60,195.60 486.90,192.90" fill="#aaa"/>
<text x="504.60" y="194.97" font-size="8.5" text-anchor="start" font-weight="normal" fill="#000" transform="translate(504.60 0) scale(0.8 1) translate(-504.60 0)" >#1</text>
<line x1="476.30" y1="208.80" x2="503.00" y2="208.80" stroke="#000" stroke-width="1.3" />
<rect x="487.35" y="206.55" width="4.5" height="4.5" fill="#000"/>
<text x="504.60" y="210.88" font-size="8.5" text-anchor="start" font-weight="normal" fill="#000" transform="translate(504.60 0) scale(0.8 1) translate(-504.60 0)" >#2</text>
<line x1="476.30" y1="224.80" x2="503.00" y2="224.80" stroke="#000" stroke-width="1.2" stroke-dasharray="1.3,1.3" />
<polygon points="489.60,222.10 492.30,226.96 486.90,226.96" fill="#000"/>
<text x="504.60" y="226.88" font-size="8.5" text-anchor="start" font-weight="normal" fill="#000" transform="translate(504.60 0) scale(0.8 1) translate(-504.60 0)" >#3</text>
<line x1="476.30" y1="240.60" x2="503.00" y2="240.60" stroke="#000" stroke-width="1.4" stroke-dasharray="3,1.6" />
<rect x="487.35" y="238.35" width="4.5" height="4.5" fill="#000"/>
<text x="504.60" y="242.67" font-size="8.5" text-anchor="start" font-weight="normal" fill="#000" transform="translate(504.60 0) scale(0.8 1) translate(-504.60 0)" >#4</text>
<text x="1.00" y="348.20" font-size="11" text-anchor="start" font-weight="bold" fill="#000" >E</text>
<line x1="50.70" y1="359.90" x2="50.70" y2="464.50" stroke="#555" stroke-width="0.9" />
<line x1="50.70" y1="464.50" x2="263.40" y2="464.50" stroke="#555" stroke-width="0.9" />
<line x1="48.20" y1="464.50" x2="50.70" y2="464.50" stroke="#555" stroke-width="0.9" />
<text x="44.30" y="466.99" font-size="7.1" text-anchor="end" font-weight="normal" fill="#000" >0</text>
<line x1="48.20" y1="443.58" x2="50.70" y2="443.58" stroke="#555" stroke-width="0.9" />
<text x="44.30" y="446.06" font-size="7.1" text-anchor="end" font-weight="normal" fill="#000" >25</text>
<line x1="48.20" y1="422.66" x2="50.70" y2="422.66" stroke="#555" stroke-width="0.9" />
<text x="44.30" y="425.14" font-size="7.1" text-anchor="end" font-weight="normal" fill="#000" >50</text>
<line x1="48.20" y1="401.74" x2="50.70" y2="401.74" stroke="#555" stroke-width="0.9" />
<text x="44.30" y="404.23" font-size="7.1" text-anchor="end" font-weight="normal" fill="#000" >75</text>
<line x1="48.20" y1="380.82" x2="50.70" y2="380.82" stroke="#555" stroke-width="0.9" />
<text x="44.30" y="383.31" font-size="7.1" text-anchor="end" font-weight="normal" fill="#000" >100</text>
<line x1="48.20" y1="359.90" x2="50.70" y2="359.90" stroke="#555" stroke-width="0.9" />
<text x="44.30" y="362.38" font-size="7.1" text-anchor="end" font-weight="normal" fill="#000" >125</text>
<line x1="50.70" y1="464.50" x2="50.70" y2="467.00" stroke="#555" stroke-width="0.9" />
<line x1="81.09" y1="464.50" x2="81.09" y2="467.00" stroke="#555" stroke-width="0.9" />
<line x1="111.47" y1="464.50" x2="111.47" y2="467.00" stroke="#555" stroke-width="0.9" />
<line x1="141.86" y1="464.50" x2="141.86" y2="467.00" stroke="#555" stroke-width="0.9" />
<line x1="172.24" y1="464.50" x2="172.24" y2="467.00" stroke="#555" stroke-width="0.9" />
<line x1="202.63" y1="464.50" x2="202.63" y2="467.00" stroke="#555" stroke-width="0.9" />
<line x1="233.01" y1="464.50" x2="233.01" y2="467.00" stroke="#555" stroke-width="0.9" />
<line x1="263.40" y1="464.50" x2="263.40" y2="467.00" stroke="#555" stroke-width="0.9" />
<text x="65.89" y="478.86" font-size="7.6" text-anchor="middle" font-weight="normal" fill="#000" >0</text>
<text x="96.28" y="478.86" font-size="7.6" text-anchor="middle" font-weight="normal" fill="#000" >2.5</text>
<text x="126.66" y="478.86" font-size="7.6" text-anchor="middle" font-weight="normal" fill="#000" >5</text>
<text x="157.05" y="478.86" font-size="7.6" text-anchor="middle" font-weight="normal" fill="#000" >10</text>
<text x="187.44" y="478.86" font-size="7.6" text-anchor="middle" font-weight="normal" fill="#000" >20</text>
<text x="217.82" y="478.86" font-size="7.6" text-anchor="middle" font-weight="normal" fill="#000" >40</text>
<text x="248.21" y="478.86" font-size="7.6" text-anchor="middle" font-weight="normal" fill="#000" >80</text>
<text x="158.50" y="497.15" font-size="9.85" text-anchor="middle" font-weight="normal" fill="#000" >NPI-0052 [nM]</text>
<text x="4.40" y="411.82" font-size="9.5" text-anchor="middle" font-weight="normal" fill="#000" transform="rotate(-90 4.40 408.50)" >Survival</text>
<text x="16.60" y="409.61" font-size="9.6" text-anchor="middle" font-weight="normal" fill="#000" transform="rotate(-90 16.60 406.25)" >(% control)</text>
<polyline points="65.89,380.82 96.28,381.66 126.66,382.49 157.05,378.31 187.44,378.31 217.82,382.49 248.21,386.68" fill="none" stroke="#aaa" stroke-width="1.2" stroke-linejoin="round"/>
<line x1="65.89" y1="379.98" x2="65.89" y2="381.66" stroke="#aaa" stroke-width="0.7" />
<line x1="64.39" y1="379.98" x2="67.39" y2="379.98" stroke="#aaa" stroke-width="0.7" />
<line x1="64.39" y1="381.66" x2="67.39" y2="381.66" stroke="#aaa" stroke-width="0.7" />
<line x1="96.28" y1="380.82" x2="96.28" y2="382.49" stroke="#aaa" stroke-width="0.7" />
<line x1="94.78" y1="380.82" x2="97.78" y2="380.82" stroke="#aaa" stroke-width="0.7" />
<line x1="94.78" y1="382.49" x2="97.78" y2="382.49" stroke="#aaa" stroke-width="0.7" />
<line x1="126.66" y1="380.82" x2="126.66" y2="384.17" stroke="#aaa" stroke-width="0.7" />
<line x1="125.16" y1="380.82" x2="128.16" y2="380.82" stroke="#aaa" stroke-width="0.7" />
<line x1="125.16" y1="384.17" x2="128.16" y2="384.17" stroke="#aaa" stroke-width="0.7" />
<line x1="157.05" y1="377.47" x2="157.05" y2="379.15" stroke="#aaa" stroke-width="0.7" />
<line x1="155.55" y1="377.47" x2="158.55" y2="377.47" stroke="#aaa" stroke-width="0.7" />
<line x1="155.55" y1="379.15" x2="158.55" y2="379.15" stroke="#aaa" stroke-width="0.7" />
<line x1="187.44" y1="376.64" x2="187.44" y2="379.98" stroke="#aaa" stroke-width="0.7" />
<line x1="185.94" y1="376.64" x2="188.94" y2="376.64" stroke="#aaa" stroke-width="0.7" />
<line x1="185.94" y1="379.98" x2="188.94" y2="379.98" stroke="#aaa" stroke-width="0.7" />
<line x1="217.82" y1="380.82" x2="217.82" y2="384.17" stroke="#aaa" stroke-width="0.7" />
<line x1="216.32" y1="380.82" x2="219.32" y2="380.82" stroke="#aaa" stroke-width="0.7" />
<line x1="216.32" y1="384.17" x2="219.32" y2="384.17" stroke="#aaa" stroke-width="0.7" />
<line x1="248.21" y1="385.00" x2="248.21" y2="388.35" stroke="#aaa" stroke-width="0.7" />
<line x1="246.71" y1="385.00" x2="249.71" y2="385.00" stroke="#aaa" stroke-width="0.7" />
<line x1="246.71" y1="388.35" x2="249.71" y2="388.35" stroke="#aaa" stroke-width="0.7" />
<rect x="63.99" y="378.92" width="3.8" height="3.8" fill="#aaa"/>
<rect x="94.38" y="379.76" width="3.8" height="3.8" fill="#aaa"/>
<rect x="124.76" y="380.59" width="3.8" height="3.8" fill="#aaa"/>
<rect x="155.15" y="376.41" width="3.8" height="3.8" fill="#aaa"/>
<rect x="185.54" y="376.41" width="3.8" height="3.8" fill="#aaa"/>
<rect x="215.92" y="380.59" width="3.8" height="3.8" fill="#aaa"/>
<rect x="246.31" y="384.78" width="3.8" height="3.8" fill="#aaa"/>
<polyline points="65.89,380.82 96.28,383.67 126.66,383.67 157.05,383.33 187.44,381.66 217.82,382.49 248.21,382.49" fill="none" stroke="#000" stroke-width="1.1" stroke-dasharray="1.3,2" stroke-linejoin="round"/>
<line x1="126.66" y1="381.15" x2="126.66" y2="386.18" stroke="#000" stroke-width="0.7" />
<line x1="125.16" y1="381.15" x2="128.16" y2="381.15" stroke="#000" stroke-width="0.7" />
<line x1="125.16" y1="386.18" x2="128.16" y2="386.18" stroke="#000" stroke-width="0.7" />
<polygon points="65.89,378.18 68.53,382.93 63.25,382.93" fill="#000"/>
<polygon points="96.28,381.03 98.92,385.78 93.64,385.78" fill="#000"/>
<polygon points="126.66,381.03 129.30,385.78 124.02,385.78" fill="#000"/>
<polygon points="157.05,380.69 159.69,385.44 154.41,385.44" fill="#000"/>
<polygon points="187.44,379.02 190.08,383.77 184.80,383.77" fill="#000"/>
<polygon points="217.82,379.85 220.46,384.61 215.18,384.61" fill="#000"/>
<polygon points="248.21,379.85 250.85,384.61 245.57,384.61" fill="#000"/>
<polyline points="65.89,380.82 96.28,382.49 126.66,383.33 157.05,380.82 187.44,382.49 217.82,381.66 248.21,383.33" fill="none" stroke="#000" stroke-width="1.1" stroke-dasharray="4,2,1.2,2" stroke-linejoin="round"/>
<circle cx="65.89" cy="380.82" r="1.8" fill="#000"/>
<circle cx="96.28" cy="382.49" r="1.8" fill="#000"/>
<circle cx="126.66" cy="383.33" r="1.8" fill="#000"/>
<circle cx="157.05" cy="380.82" r="1.8" fill="#000"/>
<circle cx="187.44" cy="382.49" r="1.8" fill="#000"/>
<circle cx="217.82" cy="381.66" r="1.8" fill="#000"/>
<circle cx="248.21" cy="383.33" r="1.8" fill="#000"/>
<polyline points="65.89,380.82 96.28,380.82 126.66,381.66 157.05,377.47 187.44,377.47 217.82,381.66 248.21,381.66" fill="none" stroke="#000" stroke-width="1.2" stroke-linejoin="round"/>
<line x1="65.89" y1="379.98" x2="65.89" y2="381.66" stroke="#000" stroke-width="0.7" />
<line x1="64.39" y1="379.98" x2="67.39" y2="379.98" stroke="#000" stroke-width="0.7" />
<line x1="64.39" y1="381.66" x2="67.39" y2="381.66" stroke="#000" stroke-width="0.7" />
<line x1="96.28" y1="379.98" x2="96.28" y2="381.66" stroke="#000" stroke-width="0.7" />
<line x1="94.78" y1="379.98" x2="97.78" y2="379.98" stroke="#000" stroke-width="0.7" />
<line x1="94.78" y1="381.66" x2="97.78" y2="381.66" stroke="#000" stroke-width="0.7" />
<line x1="126.66" y1="379.15" x2="126.66" y2="384.17" stroke="#000" stroke-width="0.7" />
<line x1="125.16" y1="379.15" x2="128.16" y2="379.15" stroke="#000" stroke-width="0.7" />
<line x1="125.16" y1="384.17" x2="128.16" y2="384.17" stroke="#000" stroke-width="0.7" />
<line x1="157.05" y1="376.64" x2="157.05" y2="378.31" stroke="#000" stroke-width="0.7" />
<line x1="155.55" y1="376.64" x2="158.55" y2="376.64" stroke="#000" stroke-width="0.7" />
<line x1="155.55" y1="378.31" x2="158.55" y2="378.31" stroke="#000" stroke-width="0.7" />
<line x1="187.44" y1="375.80" x2="187.44" y2="379.15" stroke="#000" stroke-width="0.7" />
<line x1="185.94" y1="375.80" x2="188.94" y2="375.80" stroke="#000" stroke-width="0.7" />
<line x1="185.94" y1="379.15" x2="188.94" y2="379.15" stroke="#000" stroke-width="0.7" />
<line x1="217.82" y1="379.98" x2="217.82" y2="383.33" stroke="#000" stroke-width="0.7" />
<line x1="216.32" y1="379.98" x2="219.32" y2="379.98" stroke="#000" stroke-width="0.7" />
<line x1="216.32" y1="383.33" x2="219.32" y2="383.33" stroke="#000" stroke-width="0.7" />
<line x1="248.21" y1="379.98" x2="248.21" y2="383.33" stroke="#000" stroke-width="0.7" />
<line x1="246.71" y1="379.98" x2="249.71" y2="379.98" stroke="#000" stroke-width="0.7" />
<line x1="246.71" y1="383.33" x2="249.71" y2="383.33" stroke="#000" stroke-width="0.7" />
<polygon points="65.89,378.66 68.05,380.82 65.89,382.98 63.73,380.82" fill="#000"/>
<polygon points="96.28,378.66 98.44,380.82 96.28,382.98 94.12,380.82" fill="#000"/>
<polygon points="126.66,379.50 128.82,381.66 126.66,383.82 124.50,381.66" fill="#000"/>
<polygon points="157.05,375.31 159.21,377.47 157.05,379.63 154.89,377.47" fill="#000"/>
<polygon points="187.44,375.31 189.60,377.47 187.44,379.63 185.28,377.47" fill="#000"/>
<polygon points="217.82,379.50 219.98,381.66 217.82,383.82 215.66,381.66" fill="#000"/>
<polygon points="248.21,379.50 250.37,381.66 248.21,383.82 246.05,381.66" fill="#000"/>
<line x1="209.60" y1="401.30" x2="236.00" y2="401.30" stroke="#000" stroke-width="1.2" />
<polygon points="222.80,399.02 225.08,401.30 222.80,403.58 220.52,401.30" fill="#000"/>
<text x="238.00" y="403.03" font-size="7.8" text-anchor="start" font-weight="normal" fill="#000" >#1</text>
<line x1="209.60" y1="414.50" x2="236.00" y2="414.50" stroke="#aaa" stroke-width="1.4" />
<rect x="220.90" y="412.60" width="3.8" height="3.8" fill="#aaa"/>
<text x="238.00" y="416.23" font-size="7.8" text-anchor="start" font-weight="normal" fill="#000" >#2</text>
<line x1="209.60" y1="428.30" x2="236.00" y2="428.30" stroke="#000" stroke-width="1.1" stroke-dasharray="1.3,2" />
<polygon points="222.80,426.02 225.08,430.12 220.52,430.12" fill="#000"/>
<text x="238.00" y="430.03" font-size="7.8" text-anchor="start" font-weight="normal" fill="#000" >#3</text>
<line x1="209.60" y1="441.50" x2="236.00" y2="441.50" stroke="#000" stroke-width="1.1" stroke-dasharray="4,2,1.2,2" />
<circle cx="222.80" cy="441.50" r="1.9" fill="#000"/>
<text x="238.00" y="443.23" font-size="7.8" text-anchor="start" font-weight="normal" fill="#000" >#4</text>
<text x="264.20" y="348.10" font-size="11" text-anchor="start" font-weight="bold" fill="#000" >F</text>
<line x1="306.70" y1="396.10" x2="306.70" y2="464.40" stroke="#555" stroke-width="0.9" />
<line x1="306.70" y1="464.40" x2="505.50" y2="464.40" stroke="#555" stroke-width="0.9" />
<line x1="304.20" y1="464.40" x2="306.70" y2="464.40" stroke="#555" stroke-width="0.9" />
<text x="301.70" y="466.32" font-size="5.5" text-anchor="end" font-weight="normal" fill="#000" >0</text>
<line x1="304.20" y1="454.64" x2="306.70" y2="454.64" stroke="#555" stroke-width="0.9" />
<text x="301.70" y="456.57" font-size="5.5" text-anchor="end" font-weight="normal" fill="#000" >10</text>
<line x1="304.20" y1="444.89" x2="306.70" y2="444.89" stroke="#555" stroke-width="0.9" />
<text x="301.70" y="446.81" font-size="5.5" text-anchor="end" font-weight="normal" fill="#000" >20</text>
<line x1="304.20" y1="435.13" x2="306.70" y2="435.13" stroke="#555" stroke-width="0.9" />
<text x="301.70" y="437.05" font-size="5.5" text-anchor="end" font-weight="normal" fill="#000" >30</text>
<line x1="304.20" y1="425.37" x2="306.70" y2="425.37" stroke="#555" stroke-width="0.9" />
<text x="301.70" y="427.30" font-size="5.5" text-anchor="end" font-weight="normal" fill="#000" >40</text>
<line x1="304.20" y1="415.61" x2="306.70" y2="415.61" stroke="#555" stroke-width="0.9" />
<text x="301.70" y="417.54" font-size="5.5" text-anchor="end" font-weight="normal" fill="#000" >50</text>
<line x1="304.20" y1="405.86" x2="306.70" y2="405.86" stroke="#555" stroke-width="0.9" />
<text x="301.70" y="407.78" font-size="5.5" text-anchor="end" font-weight="normal" fill="#000" >60</text>
<line x1="304.20" y1="396.10" x2="306.70" y2="396.10" stroke="#555" stroke-width="0.9" />
<text x="301.70" y="398.03" font-size="5.5" text-anchor="end" font-weight="normal" fill="#000" >70</text>
<line x1="306.70" y1="464.40" x2="306.70" y2="466.90" stroke="#555" stroke-width="0.9" />
<line x1="335.10" y1="464.40" x2="335.10" y2="466.90" stroke="#555" stroke-width="0.9" />
<line x1="363.50" y1="464.40" x2="363.50" y2="466.90" stroke="#555" stroke-width="0.9" />
<line x1="391.90" y1="464.40" x2="391.90" y2="466.90" stroke="#555" stroke-width="0.9" />
<line x1="420.30" y1="464.40" x2="420.30" y2="466.90" stroke="#555" stroke-width="0.9" />
<line x1="448.70" y1="464.40" x2="448.70" y2="466.90" stroke="#555" stroke-width="0.9" />
<line x1="477.10" y1="464.40" x2="477.10" y2="466.90" stroke="#555" stroke-width="0.9" />
<line x1="505.50" y1="464.40" x2="505.50" y2="466.90" stroke="#555" stroke-width="0.9" />
<text x="320.90" y="478.66" font-size="7.6" text-anchor="middle" font-weight="normal" fill="#000" >ctrl</text>
<text x="349.30" y="478.66" font-size="7.6" text-anchor="middle" font-weight="normal" fill="#000" >2.5</text>
<text x="377.70" y="478.66" font-size="7.6" text-anchor="middle" font-weight="normal" fill="#000" >5</text>
<text x="406.10" y="478.66" font-size="7.6" text-anchor="middle" font-weight="normal" fill="#000" >10</text>
<text x="434.50" y="478.66" font-size="7.6" text-anchor="middle" font-weight="normal" fill="#000" >15</text>
<text x="462.90" y="478.66" font-size="7.6" text-anchor="middle" font-weight="normal" fill="#000" >20</text>
<text x="491.30" y="478.66" font-size="7.6" text-anchor="middle" font-weight="normal" fill="#000" >30</text>
<text x="406.00" y="493.45" font-size="9.85" text-anchor="middle" font-weight="normal" fill="#000" >NPI-0052 [nM]</text>
<text x="286.00" y="433.82" font-size="9.5" text-anchor="middle" font-weight="normal" fill="#000" transform="rotate(-90 286.00 430.50)" >% apoptotic cells</text>
<line x1="320.90" y1="459.23" x2="320.90" y2="457.28" stroke="#000" stroke-width="0.8" />
<line x1="318.90" y1="457.28" x2="322.90" y2="457.28" stroke="#000" stroke-width="0.8" />
<rect x="314.90" y="459.23" width="12" height="5.17" fill="#999" stroke="#000" stroke-width="0.8"/>
<line x1="349.30" y1="449.37" x2="349.30" y2="445.96" stroke="#000" stroke-width="0.8" />
<line x1="347.30" y1="445.96" x2="351.30" y2="445.96" stroke="#000" stroke-width="0.8" />
<rect x="343.30" y="449.37" width="12" height="15.03" fill="#999" stroke="#000" stroke-width="0.8"/>
<line x1="377.70" y1="444.11" x2="377.70" y2="439.23" stroke="#000" stroke-width="0.8" />
<line x1="375.70" y1="439.23" x2="379.70" y2="439.23" stroke="#000" stroke-width="0.8" />
<rect x="371.70" y="444.11" width="12" height="20.29" fill="#999" stroke="#000" stroke-width="0.8"/>
<line x1="406.10" y1="439.03" x2="406.10" y2="436.79" stroke="#000" stroke-width="0.8" />
<line x1="404.10" y1="436.79" x2="408.10" y2="436.79" stroke="#000" stroke-width="0.8" />
<rect x="400.10" y="439.03" width="12" height="25.37" fill="#999" stroke="#000" stroke-width="0.8"/>
<line x1="434.50" y1="434.35" x2="434.50" y2="430.84" stroke="#000" stroke-width="0.8" />
<line x1="432.50" y1="430.84" x2="436.50" y2="430.84" stroke="#000" stroke-width="0.8" />
<rect x="428.50" y="434.35" width="12" height="30.05" fill="#999" stroke="#000" stroke-width="0.8"/>
<line x1="462.90" y1="425.37" x2="462.90" y2="422.83" stroke="#000" stroke-width="0.8" />
<line x1="460.90" y1="422.83" x2="464.90" y2="422.83" stroke="#000" stroke-width="0.8" />
<rect x="456.90" y="425.37" width="12" height="39.03" fill="#999" stroke="#000" stroke-width="0.8"/>
<line x1="491.30" y1="410.35" x2="491.30" y2="408.10" stroke="#000" stroke-width="0.8" />
<line x1="489.30" y1="408.10" x2="493.30" y2="408.10" stroke="#000" stroke-width="0.8" />
<rect x="485.30" y="410.35" width="12" height="54.05" fill="#999" stroke="#000" stroke-width="0.8"/>
<text x="101.30" y="521.00" font-size="11" text-anchor="start" font-weight="bold" fill="#000" >G</text>
<defs><filter id="bl1" x="-30%" y="-100%" width="160%" height="300%"><feGaussianBlur stdDeviation="0.9"/></filter><filter id="bl2" x="-30%" y="-100%" width="160%" height="300%"><feGaussianBlur stdDeviation="1.4"/></filter><filter id="bl0" x="-30%" y="-100%" width="160%" height="300%"><feGaussianBlur stdDeviation="0.6"/></filter></defs>
<text x="208.75" y="534.19" font-size="8.4" text-anchor="middle" font-weight="bold" fill="#000" >NPI-0052 (nM)</text>
<line x1="159.00" y1="537.70" x2="253.80" y2="537.70" stroke="#000" stroke-width="1.2" />
<text x="169.25" y="547.94" font-size="8.4" text-anchor="middle" font-weight="bold" fill="#000" >0</text>
<text x="185.50" y="547.94" font-size="8.4" text-anchor="middle" font-weight="bold" fill="#000" >2.5</text>
<text x="203.75" y="547.94" font-size="8.4" text-anchor="middle" font-weight="bold" fill="#000" >5</text>
<text x="223.00" y="547.94" font-size="8.4" text-anchor="middle" font-weight="bold" fill="#000" >10</text>
<text x="241.75" y="547.94" font-size="8.4" text-anchor="middle" font-weight="bold" fill="#000" >20</text>
<text x="153.50" y="561.74" font-size="8.4" text-anchor="end" font-weight="bold" fill="#000" >Caspase-8</text>
<text x="151.30" y="588.24" font-size="8.4" text-anchor="end" font-weight="bold" fill="#000" >CF</text>
<text x="154.30" y="611.74" font-size="8.4" text-anchor="end" font-weight="bold" fill="#000" >PARP</text>
<text x="153.70" y="624.14" font-size="8.4" text-anchor="end" font-weight="bold" fill="#000" >CF</text>
<text x="153.00" y="644.94" font-size="8.4" text-anchor="end" font-weight="bold" fill="#000" >&#945;-tubulin</text>
<rect x="158.50" y="550.60" width="99.20" height="41.00" fill="none" stroke="#111" stroke-width="1.4"/>
<rect x="161.40" y="555.65" width="14.40" height="5.90" rx="2.60" fill="#000" opacity="1" filter="url(#bl0)"/>
<rect x="177.70" y="555.35" width="16.40" height="6.50" rx="2.60" fill="#000" opacity="1" filter="url(#bl0)"/>
<rect x="196.50" y="555.50" width="16.70" height="5.40" rx="2.60" fill="#000" opacity="1" filter="url(#bl0)"/>
<rect x="215.70" y="554.55" width="17.30" height="6.30" rx="2.60" fill="#000" opacity="1" filter="url(#bl0)"/>
<rect x="234.60" y="554.00" width="18.80" height="6.40" rx="2.60" fill="#000" opacity="1" filter="url(#bl0)"/>
<rect x="184.00" y="566.30" width="8.00" height="2.00" rx="1.00" fill="#000" opacity="0.16" filter="url(#bl1)"/>
<rect x="199.00" y="566.30" width="13.00" height="2.00" rx="1.00" fill="#000" opacity="0.1" filter="url(#bl1)"/>
<rect x="218.80" y="566.30" width="12.20" height="2.00" rx="1.00" fill="#000" opacity="0.34" filter="url(#bl1)"/>
<rect x="236.60" y="566.30" width="13.30" height="2.00" rx="1.00" fill="#000" opacity="0.27" filter="url(#bl1)"/>
<rect x="216.00" y="561.50" width="17.00" height="4.00" rx="2.00" fill="#000" opacity="0.18" filter="url(#bl2)"/>
<rect x="236.00" y="561.50" width="16.00" height="3.00" rx="1.50" fill="#000" opacity="0.1" filter="url(#bl2)"/>
<rect x="181.00" y="584.60" width="10.70" height="2.20" rx="1.10" fill="#000" opacity="0.14" filter="url(#bl1)"/>
<rect x="219.00" y="584.60" width="13.00" height="2.20" rx="1.10" fill="#000" opacity="0.34" filter="url(#bl1)"/>
<rect x="239.00" y="584.60" width="12.00" height="2.20" rx="1.10" fill="#000" opacity="0.3" filter="url(#bl1)"/>
<rect x="219.00" y="581.70" width="13.00" height="1.80" rx="0.90" fill="#000" opacity="0.18" filter="url(#bl1)"/>
<rect x="239.00" y="581.70" width="12.00" height="1.80" rx="0.90" fill="#000" opacity="0.16" filter="url(#bl1)"/>
<rect x="158.50" y="602.20" width="99.20" height="24.40" fill="none" stroke="#111" stroke-width="1.4"/>
<rect x="163.50" y="605.20" width="18.60" height="9.40" rx="3.00" fill="#000" opacity="0.97" filter="url(#bl1)"/>
<rect x="183.00" y="606.20" width="17.80" height="8.80" rx="3.00" fill="#000" opacity="0.97" filter="url(#bl1)"/>
<rect x="201.70" y="606.00" width="17.10" height="9.00" rx="3.00" fill="#000" opacity="0.97" filter="url(#bl1)"/>
<rect x="219.80" y="606.30" width="18.80" height="8.80" rx="3.00" fill="#000" opacity="0.97" filter="url(#bl1)"/>
<rect x="239.20" y="607.20" width="17.10" height="8.00" rx="3.00" fill="#000" opacity="0.97" filter="url(#bl1)"/>
<rect x="221.80" y="617.00" width="13.80" height="2.20" rx="1.10" fill="#000" opacity="0.7" filter="url(#bl0)"/>
<rect x="240.20" y="617.10" width="13.80" height="2.00" rx="1.00" fill="#000" opacity="0.45" filter="url(#bl0)"/>
<rect x="184.00" y="616.90" width="12.00" height="1.80" rx="0.90" fill="#000" opacity="0.1" filter="url(#bl1)"/>
<rect x="156.80" y="634.60" width="100.40" height="13.20" fill="none" stroke="#111" stroke-width="1.4"/>
<ellipse cx="169.15" cy="643.4" rx="9.25" ry="2.1" fill="#000" filter="url(#bl0)"/>
<rect x="162.70" y="641.70" width="12.90" height="3.40" rx="1.70" fill="#000" opacity="1" filter="url(#bl0)"/>
<ellipse cx="188.00" cy="643.4" rx="9.20" ry="2.1" fill="#000" filter="url(#bl0)"/>
<rect x="181.60" y="641.70" width="12.80" height="3.40" rx="1.70" fill="#000" opacity="1" filter="url(#bl0)"/>
<ellipse cx="207.00" cy="643.4" rx="9.40" ry="2.1" fill="#000" filter="url(#bl0)"/>
<rect x="200.40" y="641.70" width="13.20" height="3.40" rx="1.70" fill="#000" opacity="1" filter="url(#bl0)"/>
<ellipse cx="225.70" cy="643.4" rx="9.90" ry="2.1" fill="#000" filter="url(#bl0)"/>
<rect x="218.60" y="641.70" width="14.20" height="3.40" rx="1.70" fill="#000" opacity="1" filter="url(#bl0)"/>
<ellipse cx="244.90" cy="643.4" rx="9.90" ry="2.1" fill="#000" filter="url(#bl0)"/>
<rect x="237.80" y="641.70" width="14.20" height="3.40" rx="1.70" fill="#000" opacity="1" filter="url(#bl0)"/>
<text x="366.40" y="532.74" font-size="8.4" text-anchor="middle" font-weight="bold" fill="#000" >NPI-0052 (nM)</text>
<line x1="318.00" y1="535.60" x2="412.40" y2="535.60" stroke="#000" stroke-width="1.2" />
<text x="335.40" y="545.24" font-size="8.4" text-anchor="middle" font-weight="bold" fill="#000" >0</text>
<text x="352.70" y="545.24" font-size="8.4" text-anchor="middle" font-weight="bold" fill="#000" >2.5</text>
<text x="370.40" y="545.24" font-size="8.4" text-anchor="middle" font-weight="bold" fill="#000" >5</text>
<text x="385.40" y="545.24" font-size="8.4" text-anchor="middle" font-weight="bold" fill="#000" >10</text>
<text x="400.40" y="545.24" font-size="8.4" text-anchor="middle" font-weight="bold" fill="#000" >20</text>
<text x="318.30" y="562.74" font-size="8.4" text-anchor="end" font-weight="bold" fill="#000" >Mcl-1</text>
<text x="318.30" y="589.14" font-size="8.4" text-anchor="end" font-weight="bold" fill="#000" >Smac/DIABLO</text>
<text x="318.30" y="608.54" font-size="8.4" text-anchor="end" font-weight="bold" fill="#000" >c-IAP</text>
<text x="318.30" y="631.44" font-size="8.4" text-anchor="end" font-weight="bold" fill="#000" >XIAP</text>
<text x="316.30" y="651.64" font-size="8.4" text-anchor="end" font-weight="bold" fill="#000" >survivin</text>
<text x="317.20" y="675.84" font-size="8.4" text-anchor="end" font-weight="bold" fill="#000" >&#945;&#8211;tubulin</text>
<rect x="322.10" y="549.30" width="88.40" height="24.40" fill="none" stroke="#111" stroke-width="1.5"/>
<rect x="327.00" y="555.40" width="14.90" height="4.60" rx="2.30" fill="#000" opacity="1" filter="url(#bl0)"/>
<rect x="344.50" y="555.60" width="14.20" height="4.20" rx="2.10" fill="#000" opacity="0.95" filter="url(#bl0)"/>
<rect x="361.80" y="556.10" width="13.10" height="3.20" rx="1.60" fill="#000" opacity="0.62" filter="url(#bl0)"/>
<rect x="378.60" y="556.20" width="12.20" height="3.00" rx="1.50" fill="#000" opacity="0.5" filter="url(#bl0)"/>
<rect x="394.50" y="556.10" width="14.00" height="3.20" rx="1.60" fill="#000" opacity="0.52" filter="url(#bl0)"/>
<rect x="327.00" y="562.50" width="14.00" height="2.00" rx="1.00" fill="#000" opacity="0.12" filter="url(#bl1)"/>
<rect x="327.00" y="565.50" width="14.00" height="2.00" rx="1.00" fill="#000" opacity="0.12" filter="url(#bl1)"/>
<rect x="345.00" y="562.75" width="12.00" height="1.50" rx="0.75" fill="#000" opacity="0.08" filter="url(#bl1)"/>
<rect x="345.00" y="565.75" width="12.00" height="1.50" rx="0.75" fill="#000" opacity="0.08" filter="url(#bl1)"/>
<rect x="321.40" y="575.00" width="88.40" height="18.00" fill="#e2e2e2" stroke="#111" stroke-width="1.5"/>
<ellipse cx="332.45" cy="583.2" rx="7.95" ry="1.40" fill="#000" opacity="0.55" filter="url(#bl0)"/>
<rect x="326.50" y="582.08" width="11.90" height="2.24" rx="1.12" fill="#000" opacity="0.55" filter="url(#bl0)"/>
<ellipse cx="351.00" cy="583.2" rx="7.00" ry="1.70" fill="#000" opacity="0.62" filter="url(#bl0)"/>
<rect x="346.00" y="581.84" width="10.00" height="2.72" rx="1.36" fill="#000" opacity="0.62" filter="url(#bl0)"/>
<ellipse cx="367.70" cy="583.2" rx="7.20" ry="1.70" fill="#000" opacity="0.64" filter="url(#bl0)"/>
<rect x="362.50" y="581.84" width="10.40" height="2.72" rx="1.36" fill="#000" opacity="0.64" filter="url(#bl0)"/>
<ellipse cx="384.50" cy="583.2" rx="7.20" ry="1.95" fill="#000" opacity="0.72" filter="url(#bl0)"/>
<rect x="379.30" y="581.64" width="10.40" height="3.12" rx="1.56" fill="#000" opacity="0.72" filter="url(#bl0)"/>
<ellipse cx="401.50" cy="583.2" rx="7.50" ry="2.20" fill="#000" opacity="0.82" filter="url(#bl0)"/>
<rect x="396.00" y="581.44" width="11.00" height="3.52" rx="1.76" fill="#000" opacity="0.82" filter="url(#bl0)"/>
<rect x="321.40" y="597.00" width="89.10" height="16.20" fill="none" stroke="#111" stroke-width="1.5"/>
<rect x="325.50" y="602.20" width="13.00" height="3.00" rx="1.50" fill="#000" opacity="0.62" filter="url(#bl1)"/>
<rect x="343.20" y="602.20" width="12.10" height="3.00" rx="1.50" fill="#000" opacity="0.46" filter="url(#bl1)"/>
<rect x="359.40" y="602.20" width="13.60" height="3.00" rx="1.50" fill="#000" opacity="0.56" filter="url(#bl1)"/>
<rect x="376.80" y="602.20" width="13.00" height="3.00" rx="1.50" fill="#000" opacity="0.3" filter="url(#bl1)"/>
<rect x="396.40" y="602.20" width="9.30" height="3.00" rx="1.50" fill="#000" opacity="0.14" filter="url(#bl1)"/>
<rect x="326.00" y="605.50" width="12.00" height="4.00" rx="2.00" fill="#000" opacity="0.15" filter="url(#bl2)"/>
<rect x="320.80" y="618.00" width="88.60" height="18.40" fill="none" stroke="#111" stroke-width="1.5"/>
<rect x="324.50" y="624.90" width="16.80" height="4.60" rx="2.30" fill="#000" opacity="0.95" filter="url(#bl0)"/>
<rect x="342.60" y="625.10" width="14.60" height="4.20" rx="2.10" fill="#000" opacity="0.9" filter="url(#bl0)"/>
<rect x="359.40" y="625.20" width="14.60" height="4.00" rx="2.00" fill="#000" opacity="0.9" filter="url(#bl0)"/>
<rect x="376.20" y="625.40" width="12.70" height="3.60" rx="1.80" fill="#000" opacity="0.8" filter="url(#bl0)"/>
<rect x="392.60" y="625.90" width="13.10" height="2.60" rx="1.30" fill="#000" opacity="0.3" filter="url(#bl0)"/>
<rect x="320.20" y="640.20" width="89.60" height="18.50" fill="none" stroke="#111" stroke-width="1.5"/>
<rect x="322.70" y="645.50" width="16.80" height="5.20" rx="2.60" fill="#000" opacity="0.8" filter="url(#bl1)"/>
<rect x="341.30" y="645.70" width="15.90" height="4.80" rx="2.40" fill="#000" opacity="0.65" filter="url(#bl1)"/>
<rect x="359.00" y="646.40" width="15.00" height="3.40" rx="1.70" fill="#000" opacity="0.4" filter="url(#bl1)"/>
<rect x="376.80" y="646.50" width="13.00" height="3.20" rx="1.60" fill="#000" opacity="0.4" filter="url(#bl1)"/>
<rect x="394.50" y="646.90" width="9.30" height="2.40" rx="1.20" fill="#000" opacity="0.12" filter="url(#bl1)"/>
<rect x="323.00" y="643.50" width="16.00" height="9.00" rx="4.50" fill="#000" opacity="0.25" filter="url(#bl2)"/>
<rect x="342.00" y="644.50" width="15.00" height="8.00" rx="4.00" fill="#000" opacity="0.2" filter="url(#bl2)"/>
<rect x="320.20" y="663.70" width="89.60" height="19.30" fill="none" stroke="#111" stroke-width="1.5"/>
<rect x="323.20" y="670.30" width="15.30" height="4.20" rx="2.10" fill="#000" opacity="1" filter="url(#bl0)"/>
<rect x="340.00" y="670.30" width="16.20" height="4.20" rx="2.10" fill="#000" opacity="1" filter="url(#bl0)"/>
<rect x="357.60" y="670.30" width="16.40" height="4.20" rx="2.10" fill="#000" opacity="1" filter="url(#bl0)"/>
<rect x="375.80" y="670.30" width="15.00" height="4.20" rx="2.10" fill="#000" opacity="1" filter="url(#bl0)"/>
<rect x="391.70" y="670.30" width="15.90" height="4.20" rx="2.10" fill="#000" opacity="1" filter="url(#bl0)"/>
</svg></body></html>
